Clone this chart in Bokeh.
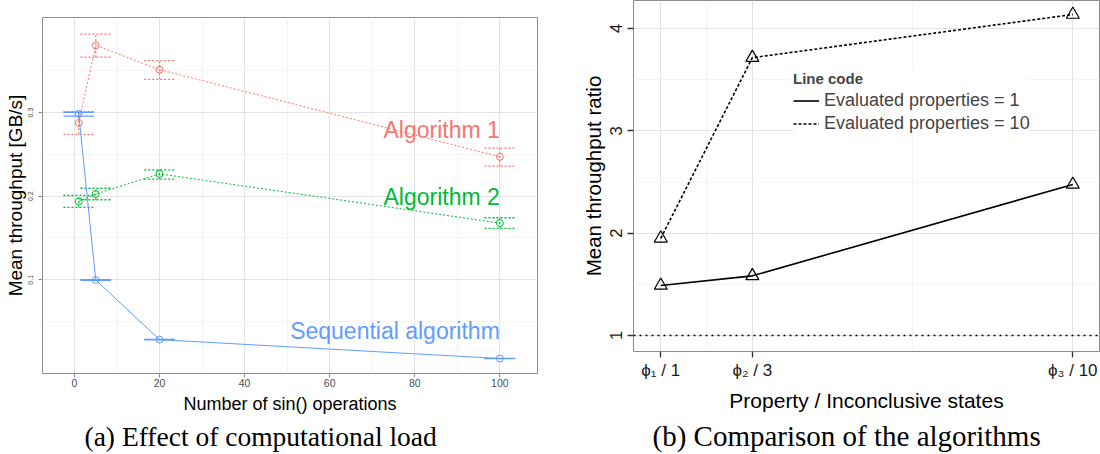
import numpy as np
from bokeh.plotting import figure
from bokeh.models import FixedTicker, Range1d, Legend, LegendItem, Span
from bokeh.core.properties import value
from bokeh.embed import file_html
from bokeh.resources import INLINE

# ---------------- data: (a) effect of computational load ----------------
sin_ops = [1, 5, 20, 100]
alg1_mean = [0.2876, 0.3803, 0.3513, 0.2471]
alg1_lo = [0.2740, 0.3663, 0.3397, 0.2360]
alg1_hi = [0.3012, 0.3938, 0.3620, 0.2574]
alg2_mean = [0.1937, 0.2026, 0.2267, 0.1678]
alg2_lo = [0.1865, 0.1957, 0.2203, 0.1615]
alg2_hi = [0.2008, 0.2095, 0.2315, 0.1742]
seq_mean = [0.2983, 0.0997, 0.0284, 0.0058]
seq_lo = [0.2958, 0.0993, 0.0281, 0.0056]
seq_hi = [0.3004, 0.1001, 0.0287, 0.0060]
series_names = ["Algorithm 1", "Algorithm 2", "Sequential algorithm"]
label_x = [100, 100, 100]
label_y = [0.2792, 0.1991, 0.0386]
x_ticks_a = [0, 20, 40, 60, 80, 100]
y_ticks_a = [0.1, 0.2, 0.3]

# ---------------- data: (b) comparison of the algorithms ----------------
inconclusive_states = [1, 3, 10]
property_labels = ["ϕ₁ / 1", "ϕ₂ / 3", "ϕ₃ / 10"]
ratio_props_1 = [1.489, 1.583, 2.476]
ratio_props_10 = [1.950, 3.715, 4.137]
legend_labels = ["Evaluated properties = 1", "Evaluated properties = 10"]
reference_ratio = 1
y_ticks_b = [1, 2, 3, 4]

SANS = "Liberation Sans"
SERIF = "Liberation Serif"
RED, GREEN, BLUE = "#F8766D", "#00BA38", "#619CFF"
CAP = 3.6

def style_common(p):
    p.background_fill_color = "white"
    p.border_fill_color = "white"
    p.outline_line_color = "#8C8C8C"
    p.outline_line_width = 1
    for ax in (p.xaxis, p.yaxis):
        ax.axis_line_color = None
        ax.minor_tick_out = 0
        ax.minor_tick_in = 0
        ax.major_tick_in = 0
        ax.major_label_text_font = SANS
        ax.axis_label_text_font = SANS
        ax.axis_label_text_font_style = "normal"
        ax.axis_label_text_color = "black"
    for g in (p.xgrid, p.ygrid):
        g.grid_line_color = "#E3E3E3"
        g.grid_line_width = 1
        g.minor_grid_line_color = "#F4F4F4"
        g.minor_grid_line_width = 1
    p.title.text_font = SERIF
    p.title.text_font_style = "normal"
    p.title.text_color = "black"
    p.title.align = "left"

# ---------------- figure (a) ----------------
p1 = figure(width=560, height=454, x_range=Range1d(-7.52, 108.86),
            y_range=Range1d(-0.0121, 0.4137), output_backend="svg",
            toolbar_location=None, min_border_left=42, min_border_right=23,
            min_border_top=17, min_border_bottom=80,
            title="(a) Effect of computational load", title_location="below")
style_common(p1)
p1.title.text_font_size = "27.5px"
p1.title.offset = 42
p1.title.standoff = 5

p1.xaxis.ticker = FixedTicker(ticks=x_ticks_a, minor_ticks=[10, 30, 50, 70, 90])
p1.yaxis.ticker = FixedTicker(ticks=y_ticks_a, minor_ticks=[0.05, 0.15, 0.25, 0.35])
p1.xaxis.major_label_text_font_size = "10.5px"
p1.yaxis.major_label_text_font_size = "7px"
p1.yaxis.major_label_orientation = "parallel"
for ax in (p1.xaxis, p1.yaxis):
    ax.major_label_text_color = "#4D4D4D"
    ax.major_tick_out = 4
    ax.major_tick_line_color = "#8C8C8C"
p1.xaxis.major_label_standoff = 1
p1.yaxis.major_label_standoff = 5
p1.xaxis.axis_label = "Number of sin() operations"
p1.yaxis.axis_label = "Mean throughput [GB/s]"
p1.xaxis.axis_label_text_font_size = "18px"
p1.yaxis.axis_label_text_font_size = "19px"
p1.xaxis.axis_label_standoff = 4
p1.yaxis.axis_label_standoff = 0

xs = np.array(sin_ops, dtype=float)
for mean, lo, hi, color, dash in [
        (alg1_mean, alg1_lo, alg1_hi, RED, "2 2"),
        (alg2_mean, alg2_lo, alg2_hi, GREEN, "2 2"),
        (seq_mean, seq_lo, seq_hi, BLUE, "solid")]:
    p1.line(sin_ops, mean, line_color=color, line_width=1, line_dash=dash)
    p1.segment(x0=xs, x1=xs, y0=lo, y1=hi, line_color=color, line_width=1.2, line_dash=dash)
    p1.segment(x0=xs - CAP, x1=xs + CAP, y0=lo, y1=lo, line_color=color, line_width=1.3, line_dash=dash)
    p1.segment(x0=xs - CAP, x1=xs + CAP, y0=hi, y1=hi, line_color=color, line_width=1.3, line_dash=dash)
    p1.scatter(sin_ops, mean, marker="circle", size=7, fill_color=None,
               line_color=color, line_width=1)

p1.text(x=label_x, y=label_y, text=series_names, text_color=[RED, GREEN, BLUE],
        text_align="right", text_baseline="alphabetic", text_font=value(SANS),
        text_font_size="23px")

# ---------------- figure (b) ----------------
p2 = figure(width=540, height=454, x_range=Range1d(0.404, 10.583),
            y_range=Range1d(0.8436, 4.2737), output_backend="svg",
            toolbar_location=None, min_border_left=73, min_border_right=1,
            min_border_top=0, min_border_bottom=103,
            title="(b) Comparison of the algorithms", title_location="below")
style_common(p2)
p2.title.text_font_size = "29px"
p2.title.offset = 19
p2.title.standoff = 6
p2.styles = {"position": "absolute", "left": "560px", "top": "0px"}

p2.xaxis.ticker = FixedTicker(ticks=inconclusive_states, minor_ticks=[2, 6.5])
p2.xaxis.major_label_overrides = {k: v for k, v in zip(inconclusive_states, property_labels)}
p2.yaxis.ticker = FixedTicker(ticks=y_ticks_b, minor_ticks=[1.5, 2.5, 3.5])
p2.yaxis.major_label_orientation = "parallel"
p2.xaxis.major_label_text_font_size = "17px"
p2.yaxis.major_label_text_font_size = "16.5px"
for ax in (p2.xaxis, p2.yaxis):
    ax.major_label_text_color = "#1A1A1A"
    ax.major_tick_out = 6
    ax.major_tick_line_color = "#333333"
    ax.major_tick_line_width = 1.3
p2.xaxis.major_label_standoff = 3
p2.yaxis.major_label_standoff = 5
p2.xaxis.axis_label = "Property / Inconclusive states"
p2.yaxis.axis_label = "Mean throughput ratio"
p2.xaxis.axis_label_text_font_size = "21px"
p2.yaxis.axis_label_text_font_size = "20.5px"
p2.xaxis.axis_label_standoff = 6
p2.yaxis.axis_label_standoff = 3

p2.add_layout(Span(location=reference_ratio, dimension="width", line_color="black",
                   line_width=1.4, line_dash="2 4"))
r1 = p2.line(inconclusive_states, ratio_props_1, line_color="black", line_width=1.6)
r10 = p2.line(inconclusive_states, ratio_props_10, line_color="black", line_width=1.6,
              line_dash="3 2")
for vals in (ratio_props_1, ratio_props_10):
    p2.scatter(inconclusive_states, vals, marker="triangle", size=13, fill_color=None,
               line_color="black", line_width=1.2)

legend = Legend(items=[LegendItem(label=legend_labels[0], renderers=[r1]),
                       LegendItem(label=legend_labels[1], renderers=[r10])],
                location=(160, 216), title="Line code")
legend.title_text_font = SANS
legend.title_text_font_style = "bold"
legend.title_text_font_size = "15px"
legend.title_standoff = 2
legend.label_text_font = SANS
legend.label_text_font_size = "18px"
legend.label_height = 23
legend.glyph_height = 23
legend.glyph_width = 26
legend.label_standoff = 5
legend.spacing = 0
legend.padding = 6
legend.margin = 0
legend.border_line_color = None
legend.background_fill_color = "white"
legend.background_fill_alpha = 1
p2.add_layout(legend)

open("out.html", "w").write(file_html([p1, p2], INLINE))
